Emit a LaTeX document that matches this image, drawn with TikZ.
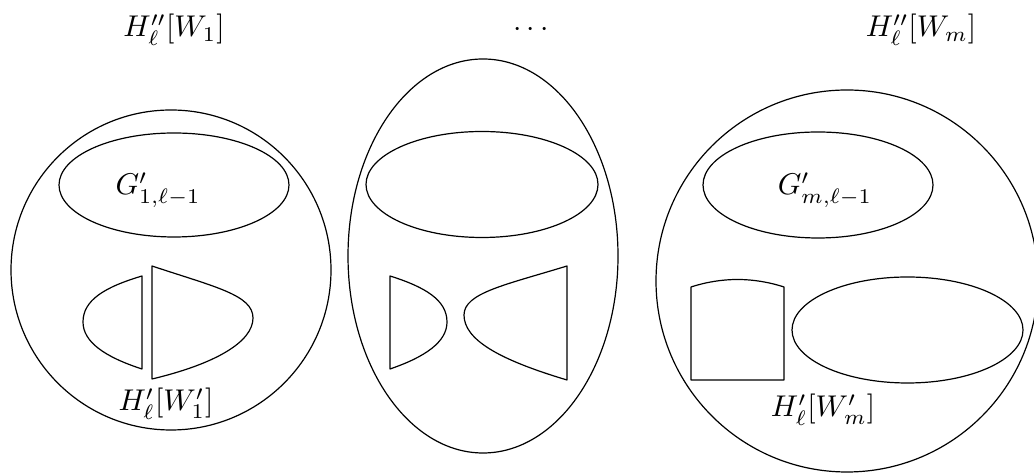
\documentclass[tikz,border=0pt]{standalone}
\begin{document}
\begin{tikzpicture}[x=0.3333pt,y=-0.3333pt,line width=0.4pt,
  lbl/.style={inner sep=0pt,anchor=base},
  part/.style={draw,line join=round}]
\useasboundingbox (0,0) rectangle (1034,475);
\clip (0,0) rectangle (1034,475);
% left group
\draw[part] (171,270) circle [radius=160];
\draw[part] (174,185) ellipse [x radius=115,y radius=52];
\draw[part] (142,276) .. controls (105,287) and (83,300) .. (83,322)
  .. controls (83,342) and (105,357) .. (142,369) -- cycle;
\draw[part] (152,266) .. controls (215,287) and (253,295) .. (253,318)
  .. controls (253,342) and (215,364) .. (152,379) -- cycle;
% middle group
\draw[part] (483,256) ellipse [x radius=135,y radius=197];
\draw[part] (482,184.5) ellipse [x radius=116,y radius=53];
\draw[part] (390,276) .. controls (425,287) and (447,300) .. (447,322)
  .. controls (447,342) and (425,357) .. (390,369) -- cycle;
\draw[part] (567,266) .. controls (505,285) and (464,293) .. (464,315)
  .. controls (464,340) and (500,360) .. (567,380) -- cycle;
% right group
\draw[part] (847,281) circle [radius=191];
\draw[part] (818,185) ellipse [x radius=115,y radius=53];
\draw[part] (691,287) .. controls (722,277) and (753,277) .. (784,287)
  -- (784,380) -- (691,380) -- cycle;
\draw[part] (907.5,330) ellipse [x radius=115.5,y radius=53];
% labels
\node[lbl] (t1) at (174,37) {$H''_\ell[W_1]$};
\node[lbl] (td) at (531,37) {$\cdots$};
\node[lbl] (tm) at (921,37) {$H''_\ell[W_m]$};
\node[lbl] (g1) at (158,195) {$G'_{1,\ell-1}$};
\node[lbl] (gm) at (825,195) {$G'_{m,\ell-1}$};
\node[lbl] (h1) at (166,411) {$H'_\ell[W'_1]$};
\node[lbl] (hm) at (823,417) {$H'_\ell[W'_m]$};
\end{tikzpicture}
\end{document}
